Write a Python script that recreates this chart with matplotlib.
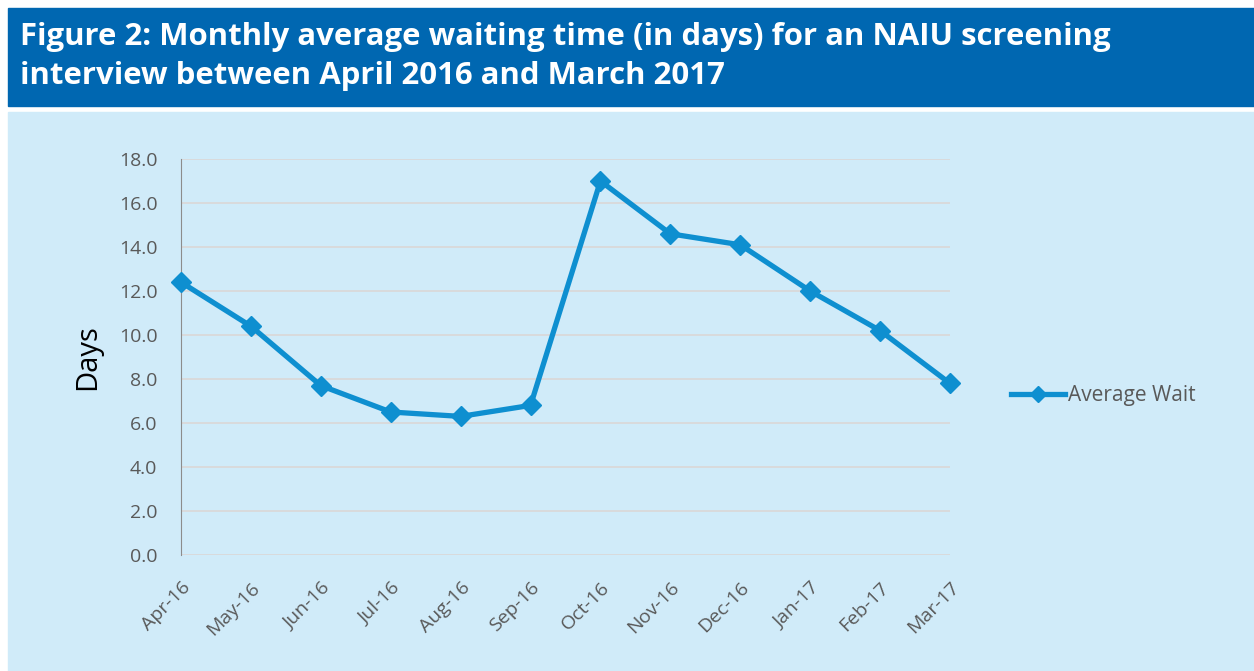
import matplotlib
matplotlib.use("Agg")
import matplotlib.pyplot as plt
from matplotlib.patches import Rectangle
from matplotlib.transforms import ScaledTranslation

months = ["Apr-16", "May-16", "Jun-16", "Jul-16", "Aug-16", "Sep-16",
          "Oct-16", "Nov-16", "Dec-16", "Jan-17", "Feb-17", "Mar-17"]
average_wait = [12.4, 10.4, 7.7, 6.5, 6.3, 6.8, 17.0, 14.6, 14.1, 12.0, 10.2, 7.8]
y_ticks = [0, 2, 4, 6, 8, 10, 12, 14, 16, 18]

W, H = 1254, 671
LINE = "#0e8fd0"
TICK = "#595959"

fig = plt.figure(figsize=(W / 100, H / 100), dpi=100)
fig.patch.set_facecolor("white")

# background panels (behind the axes)
fig.patches.append(Rectangle((8 / W, 1 - 106 / H), 1 - 8 / W, 98 / H,
                             transform=fig.transFigure, color="#0067b1", zorder=-5))
fig.patches.append(Rectangle((8 / W, 0), 1 - 8 / W, 1 - 112 / H,
                             transform=fig.transFigure, color="#d0ebf9", zorder=-5))

fig.text(20 / W, 1 - 37 / H, "Figure 2: Monthly average waiting time (in days) for an NAIU screening",
         color="white", fontsize=22.4, fontweight="bold", family="Open Sans",
         va="center", ha="left")
fig.text(20 / W, 1 - 76 / H, "interview between April 2016 and March 2017",
         color="white", fontsize=22.4, fontweight="bold", family="Open Sans",
         va="center", ha="left")

ax = fig.add_axes([181 / W, 1 - 555 / H, (950 - 181) / W, (555 - 159) / H])
ax.set_facecolor("none")
x = list(range(len(months)))
ax.plot(x, average_wait, color=LINE, lw=3.8, marker="D", ms=10.5, label="Average Wait",
        clip_on=False, zorder=3, solid_joinstyle="round")
ax.set_xlim(0, len(months) - 1)
ax.set_ylim(0, 18)
ax.set_yticks(y_ticks)
ax.set_yticklabels([f"{v:.1f}" for v in y_ticks], fontsize=14, color=TICK, family="Open Sans")
ax.set_xticks(x)
ax.set_xticklabels(months, rotation=45, ha="right", rotation_mode="anchor",
                   fontsize=14, color=TICK, family="Open Sans")
# nudge the slanted month labels a little left/down
shift = ScaledTranslation(-7 / 100, -3 / 100, fig.dpi_scale_trans)
for lbl in ax.get_xticklabels():
    lbl.set_transform(lbl.get_transform() + shift)
ax.tick_params(axis="y", length=0, pad=17)
ax.tick_params(axis="x", length=0, pad=17)
ax.grid(axis="y", color="#d9d9d9", lw=1.3)
ax.set_axisbelow(True)
for s in ["top", "right", "bottom"]:
    ax.spines[s].set_visible(False)
ax.spines["left"].set_color("#8c8c8c")
ax.set_ylabel("Days", fontsize=21, family="Open Sans", color="black")
ax.yaxis.set_label_coords(-0.103, 0.5)

ax.legend(loc="center left", bbox_to_anchor=(992 / W, 1 - 396 / H),
          bbox_transform=fig.transFigure, frameon=False,
          labelcolor=TICK, prop={"family": "Open Sans", "size": 15},
          handlelength=2.6, handletextpad=0.15, markerscale=0.75)

fig.savefig("out.png", dpi=100)
